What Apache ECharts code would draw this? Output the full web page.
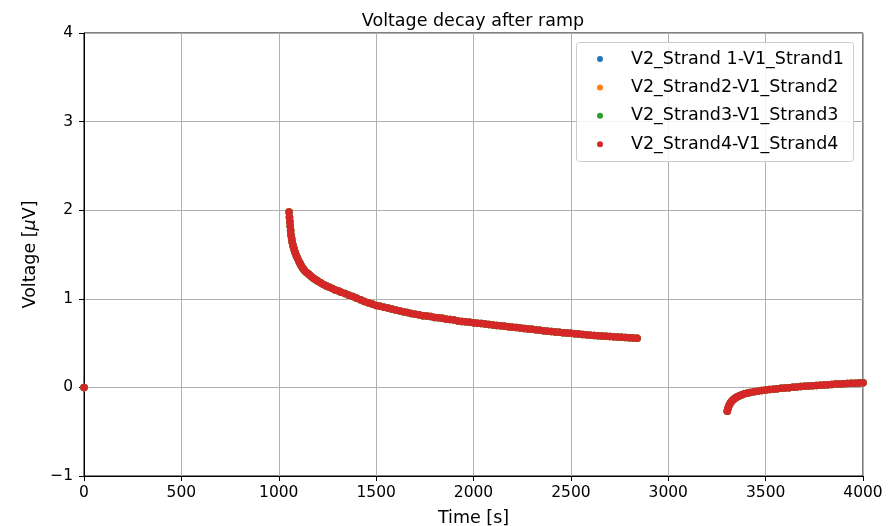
<!DOCTYPE html>
<html>
<head>
<meta charset="utf-8">
<script src="https://cdn.jsdelivr.net/npm/echarts@6/dist/echarts.min.js"></script>
<style>
html,body{margin:0;padding:0;background:#fff;}
#chart{width:895px;height:526px;}
</style>
</head>
<body>
<div id="chart"></div>
<script>
// ---- data ----
const seriesNames = ['V2_Strand 1-V1_Strand1', 'V2_Strand2-V1_Strand2', 'V2_Strand3-V1_Strand3', 'V2_Strand4-V1_Strand4'];
const seriesColors = ['#1f77b4', '#ff7f0e', '#2ca02c', '#d62728'];

const timeStart = [0];
const voltStart = [0];

const timeDecay = [1053,1055,1057,1059,1061,1063,1066,1069,1072,1076,1080,1085,1090,1096,1102,1109,1116,1124,1132,1141,1150,1160,1170,1180,1190,1200,1215,1230,1245,1260,1275,1290,1305,1320,1340,1360,1380,1400,1420,1440,1460,1480,1500,1520,1540,1560,1580,1600,1620,1640,1660,1680,1700,1720,1740,1760,1780,1800,1820,1840,1860,1880,1900,1920,1940,1960,1980,2000,2020,2040,2060,2080,2100,2120,2140,2160,2180,2200,2220,2240,2260,2280,2300,2320,2340,2360,2380,2400,2420,2440,2460,2480,2500,2520,2540,2560,2580,2600,2620,2640,2660,2680,2700,2720,2740,2760,2780,2800,2820,2840];
const voltDecay = [1.98,1.92,1.87,1.82,1.77,1.72,1.68,1.64,1.61,1.58,1.55,1.52,1.49,1.46,1.43,1.40,1.37,1.345,1.32,1.30,1.285,1.265,1.245,1.23,1.215,1.20,1.18,1.16,1.145,1.13,1.115,1.10,1.09,1.075,1.06,1.04,1.025,1.005,0.99,0.97,0.955,0.94,0.925,0.915,0.905,0.895,0.885,0.875,0.865,0.855,0.845,0.835,0.825,0.82,0.81,0.805,0.80,0.79,0.785,0.78,0.77,0.765,0.76,0.75,0.745,0.74,0.735,0.73,0.725,0.72,0.715,0.71,0.705,0.70,0.695,0.69,0.685,0.68,0.675,0.67,0.665,0.66,0.655,0.65,0.645,0.64,0.635,0.63,0.626,0.622,0.618,0.614,0.61,0.606,0.602,0.598,0.594,0.59,0.587,0.584,0.581,0.578,0.575,0.572,0.569,0.566,0.563,0.56,0.558,0.555];

const timeRecover = [3303,3306,3310,3315,3321,3328,3336,3345,3355,3366,3378,3391,3405,3420,3440,3460,3480,3500,3520,3540,3560,3580,3600,3620,3640,3660,3680,3700,3720,3740,3760,3780,3800,3820,3840,3860,3880,3900,3920,3940,3960,3980,4000];
const voltRecover = [-0.27,-0.24,-0.215,-0.19,-0.17,-0.15,-0.135,-0.12,-0.105,-0.093,-0.082,-0.073,-0.065,-0.058,-0.05,-0.043,-0.036,-0.03,-0.025,-0.02,-0.015,-0.011,-0.007,-0.003,0.001,0.005,0.009,0.013,0.016,0.019,0.022,0.025,0.028,0.031,0.034,0.037,0.039,0.042,0.044,0.046,0.048,0.05,0.052];

const xTicks = {min: 0, max: 4000, interval: 500};
const yTicks = {min: -1, max: 4, interval: 1};

// ---- build ----
function pairs(t, v) { return t.map((x, i) => [x, v[i]]); }
const allPoints = pairs(timeStart, voltStart).concat(pairs(timeDecay, voltDecay), pairs(timeRecover, voltRecover));

const FONT = 'DejaVu Sans';
const chart = echarts.init(document.getElementById('chart'), null, {renderer: 'canvas'});

const option = {
  animation: false,
  backgroundColor: '#fff',
  textStyle: {fontFamily: FONT},
  title: {
    text: 'Voltage decay after ramp',
    left: 468, textAlign: 'center', top: 7,
    textStyle: {fontFamily: FONT, fontSize: 17.5, fontWeight: 'normal', color: '#000'}
  },
  graphic: [{
    type: 'rect', z: 3,
    shape: {x: 576.5, y: 42.5, width: 277, height: 119, r: 3},
    style: {fill: 'rgba(255,255,255,0.85)', stroke: '#cccccc', lineWidth: 1}
  }],
  legend: {
    orient: 'vertical', left: 597, top: 49, z: 4,
    padding: 0, itemGap: 8.4,
    icon: 'circle', itemWidth: 52, itemHeight: 6,
    textStyle: {fontFamily: FONT, fontSize: 17.5, color: '#000', lineHeight: 20},
    data: seriesNames
  },
  grid: {left: 84, right: 32, top: 33, bottom: 50, outerBoundsMode: 'none', containLabel: false,
    show: true, borderColor: '#000', borderWidth: 1, backgroundColor: 'transparent'},
  xAxis: {
    type: 'value', min: xTicks.min, max: xTicks.max, interval: xTicks.interval,
    name: 'Time [s]', nameLocation: 'middle', nameGap: 33,
    nameTextStyle: {fontFamily: FONT, fontSize: 17.5, color: '#000'},
    axisLine: {show: true, onZero: false, lineStyle: {color: '#000', width: 1}},
    axisTick: {show: true, length: 5, inside: false, lineStyle: {color: '#000'}},
    axisLabel: {fontFamily: FONT, fontSize: 15.5, color: '#000', margin: 9,
      formatter: v => String(v)},
    splitLine: {show: true, lineStyle: {color: '#b0b0b0', width: 1}}
  },
  yAxis: {
    type: 'value', min: yTicks.min, max: yTicks.max, interval: yTicks.interval,
    name: 'Voltage [{i|μ}V]', nameLocation: 'middle', nameGap: 44,
    nameTextStyle: {fontFamily: FONT, fontSize: 17.5, color: '#000', rich: {i: {fontFamily: FONT, fontSize: 17.5, fontStyle: 'italic', color: '#000'}}},
    axisLine: {show: true, onZero: false, lineStyle: {color: '#000', width: 1}},
    axisTick: {show: true, length: 5, inside: false, lineStyle: {color: '#000'}},
    axisLabel: {fontFamily: FONT, fontSize: 15.5, color: '#000', margin: 11,
      formatter: v => (v < 0 ? '\u2212' + Math.abs(v) : String(v))},
    splitLine: {show: true, lineStyle: {color: '#b0b0b0', width: 1}}
  },
  series: seriesNames.map((n, i) => ({
    name: n, type: 'scatter', symbol: 'circle', symbolSize: 7.5, z: 2,
    itemStyle: {color: seriesColors[i], opacity: 1},
    data: allPoints
  }))
};
chart.setOption(option);
</script>
</body>
</html>
